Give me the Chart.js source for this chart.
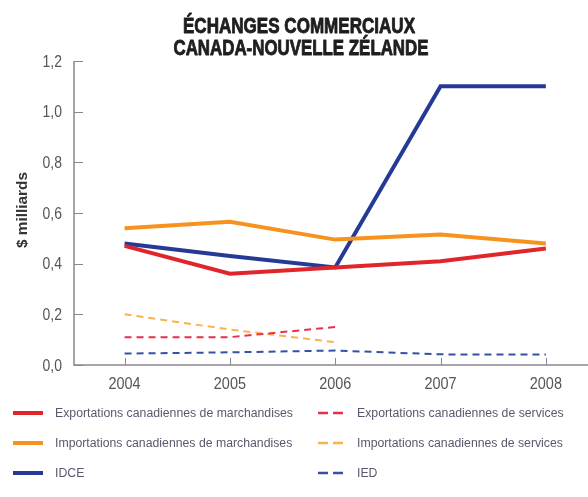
<!DOCTYPE html>
<html>
<head>
<meta charset="utf-8">
<script src="https://cdn.jsdelivr.net/npm/chart.js@4/dist/chart.umd.min.js"></script>
<style>
  html, body { margin: 0; padding: 0; background: #fff; }
  #wrap { width: 588px; height: 497px; position: relative; }
</style>
</head>
<body>
<div id="wrap"><canvas id="c"></canvas></div>
<script>
// Trade between Canada and New Zealand, in billions of dollars
const years = [2004, 2005, 2006, 2007, 2008];
const exportsMerch = [0.47, 0.36, 0.385, 0.41, 0.46];
const importsMerch = [0.54, 0.565, 0.495, 0.515, 0.48];
const idce = [0.48, 0.43, 0.385, 1.10, 1.10];
const exportsServ = [0.11, 0.11, 0.15, null, null];
const importsServ = [0.20, 0.14, 0.09, null, null];
const ied = [0.045, 0.05, 0.057, 0.042, 0.041];
const yTicks = [0, 0.2, 0.4, 0.6, 0.8, 1.0, 1.2];

const titleLines = ['ÉCHANGES COMMERCIAUX', 'CANADA-NOUVELLE ZÉLANDE'];
const yTitle = '$ milliards';
const seriesNames = [
  'Exportations canadiennes de marchandises',
  'Importations canadiennes de marchandises',
  'IDCE',
  'Exportations canadiennes de services',
  'Importations canadiennes de services',
  'IED'
];

const SANS = '"Liberation Sans", Arial, "DejaVu Sans", sans-serif';

const toPoints = vals => years.map((yr, i) => ({ x: yr, y: vals[i] }));

function solid(label, vals, color) {
  return { label, data: toPoints(vals), borderColor: color, backgroundColor: color,
           borderWidth: 4, pointRadius: 0, tension: 0, spanGaps: false };
}
function dashed(label, vals, color) {
  return { label, data: toPoints(vals), borderColor: color, backgroundColor: color,
           borderWidth: 2, borderDash: [7, 5], pointRadius: 0, tension: 0, spanGaps: false };
}

// Draws text squeezed horizontally by factor sx (condensed lettering);
// an optional outline thickens heavy headings
function narrowText(ctx, text, x, y, sx, outline) {
  ctx.save();
  ctx.translate(x, y);
  ctx.scale(sx, 1);
  ctx.fillText(text, 0, 0);
  if (outline) {
    ctx.strokeStyle = ctx.fillStyle;
    ctx.lineWidth = outline;
    ctx.lineJoin = 'round';
    ctx.strokeText(text, 0, 0);
  }
  ctx.restore();
}
// Squeeze factor that brings text to a given width
function fitScale(ctx, text, width) {
  return width / ctx.measureText(text).width;
}

// Title, axis labels, inner tick marks and the two-column legend
const decorations = {
  id: 'decorations',
  afterDraw(chart) {
    const { ctx, chartArea, scales } = chart;
    const x = scales.x, y = scales.y;
    ctx.save();

    // title, condensed heavy capitals
    ctx.fillStyle = '#1e1e1e';
    ctx.font = 'bold 22px ' + SANS;
    ctx.textAlign = 'center';
    ctx.textBaseline = 'alphabetic';
    narrowText(ctx, titleLines[0], 299, 33, fitScale(ctx, titleLines[0], 232), 0.9);
    narrowText(ctx, titleLines[1], 301, 55, fitScale(ctx, titleLines[1], 255), 0.9);

    // y axis title
    ctx.save();
    ctx.translate(27, 210);
    ctx.rotate(-Math.PI / 2);
    ctx.font = 'bold 15px ' + SANS;
    ctx.fillStyle = '#333';
    ctx.textAlign = 'center';
    narrowText(ctx, yTitle, 0, 0, fitScale(ctx, yTitle, 76));
    ctx.restore();

    // tick labels
    ctx.fillStyle = '#555';
    ctx.font = '17px ' + SANS;
    ctx.textBaseline = 'middle';
    ctx.textAlign = 'right';
    yTicks.forEach(v => {
      narrowText(ctx, v.toFixed(1).replace('.', ','), 62, y.getPixelForValue(v) + 1, 0.82);
    });
    ctx.textAlign = 'center';
    years.forEach(v => {
      narrowText(ctx, String(v), x.getPixelForValue(v), chartArea.bottom + 19, 0.85);
    });

    // axis lines and inner ticks
    ctx.strokeStyle = '#8a8790';
    ctx.lineWidth = 1.5;
    ctx.beginPath();
    ctx.moveTo(chartArea.left, chartArea.top);
    ctx.lineTo(chartArea.left, chartArea.bottom);
    ctx.lineTo(chartArea.right, chartArea.bottom);
    ctx.stroke();
    ctx.lineWidth = 1;
    ctx.beginPath();
    yTicks.forEach(v => {
      const py = Math.round(y.getPixelForValue(v)) + 0.5;
      ctx.moveTo(chartArea.left, py);
      ctx.lineTo(chartArea.left + 9, py);
    });
    years.forEach(v => {
      const px = Math.round(x.getPixelForValue(v)) + 0.5;
      ctx.moveTo(px, chartArea.bottom);
      ctx.lineTo(px, chartArea.bottom - 7);
    });
    ctx.stroke();

    // legend
    const colX = [13, 318];
    const textX = [55, 357];
    const rowY = [413, 443, 473];
    ctx.font = '12px ' + SANS;
    const legendScale = fitScale(ctx, seriesNames[0], 238);
    ctx.textAlign = 'left';
    ctx.textBaseline = 'middle';
    chart.data.datasets.forEach((ds, i) => {
      const col = Math.floor(i / 3), row = i % 3;
      const sx = colX[col], sy = rowY[row];
      ctx.strokeStyle = ds.borderColor;
      ctx.lineWidth = ds.borderDash ? 2.5 : 4;
      ctx.setLineDash(ds.borderDash ? [10, 5] : []);
      ctx.beginPath();
      ctx.moveTo(sx, sy);
      ctx.lineTo(sx + (ds.borderDash ? 25 : 30), sy);
      ctx.stroke();
      ctx.setLineDash([]);
      ctx.fillStyle = '#5a586c';
      narrowText(ctx, ds.label, textX[col], sy + 1, legendScale);
    });
    ctx.restore();
  }
};

new Chart(document.getElementById('c'), {
  type: 'line',
  data: {
    datasets: [
      solid(seriesNames[0], exportsMerch, '#e1262b'),
      solid(seriesNames[1], importsMerch, '#f7921e'),
      solid(seriesNames[2], idce, '#243a96'),
      dashed(seriesNames[3], exportsServ, '#e8304a'),
      dashed(seriesNames[4], importsServ, '#f9b24e'),
      dashed(seriesNames[5], ied, '#3450a8')
    ]
  },
  options: {
    responsive: true,
    maintainAspectRatio: false,
    animation: false,
    layout: { padding: { top: 61, right: 0, bottom: 110, left: 0 } },
    plugins: { legend: { display: false }, title: { display: false }, tooltip: { enabled: false } },
    scales: {
      x: {
        type: 'linear',
        min: 2003.52,
        max: 2008.4,
        afterBuildTicks: s => { s.ticks = years.map(v => ({ value: v })); },
        afterFit: s => { s.height = 22; },
        grid: { display: false, drawTicks: false },
        border: { display: false },
        ticks: { display: false }
      },
      y: {
        min: 0,
        max: 1.2,
        afterBuildTicks: s => { s.ticks = yTicks.map(v => ({ value: v })); },
        afterFit: s => { s.width = 74; },
        grid: { display: false, drawTicks: false },
        border: { display: false },
        ticks: { display: false }
      }
    }
  },
  plugins: [decorations]
});
</script>
</body>
</html>
